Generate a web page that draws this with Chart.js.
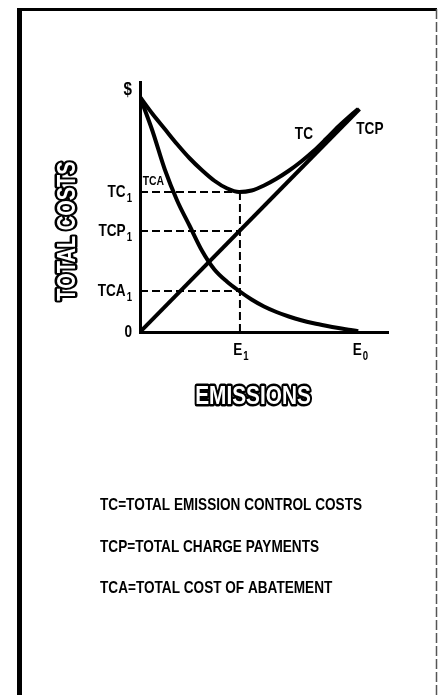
<!DOCTYPE html>
<html>
<head>
<meta charset="utf-8">
<script src="https://cdn.jsdelivr.net/npm/chart.js@4.4.1/dist/chart.umd.min.js"></script>
<style>
  html, body { margin: 0; padding: 0; background: #fff; }
  #wrap { position: absolute; left: 0; top: 0; width: 444px; height: 695px; }
</style>
</head>
<body>
<div id="wrap"><canvas id="costChart" width="444" height="695"></canvas></div>
<script>
// emissions axis samples (shared by the two curves)
var emissions = [0, 0.5, 1, 1.5, 2, 2.5, 3, 3.5, 4, 4.5, 5, 5.5, 6, 6.5, 7, 7.5, 8, 8.5, 8.8];
// total emission control costs
var tcValues = [9.4, 8.73, 8.12, 7.51, 6.95, 6.47, 6.05, 5.75, 5.6, 5.66, 5.86, 6.13, 6.45, 6.82, 7.24, 7.72, 8.22, 8.67, 8.92];
// total cost of abatement
var tcaValues = [9.4, 8.05, 6.5, 5.25, 4.25, 3.25, 2.5, 2.02, 1.64, 1.3, 1.02, 0.8, 0.62, 0.47, 0.35, 0.25, 0.16, 0.08, 0.03];
// total charge payments (straight line)
var tcpEmissions = [0, 8.85];
var tcpValues = [0, 8.92];

// marked levels
var e1 = 4.03, e0 = 8.85;
var tc1 = 5.6, tcp1 = 4.04, tca1 = 1.64, dollarMark = 9.7;

var yTickValues = [0, tca1, tcp1, tc1, dollarMark];
var yTickLabels = ["0", "TCA\u2081", "TCP\u2081", "TC\u2081", "$"];
var xTickValues = [e1, e0];
var xTickLabels = ["E\u2081", "E\u2080"];

var legendLines = [
    "TC=TOTAL EMISSION CONTROL COSTS",
    "TCP=TOTAL CHARGE PAYMENTS",
    "TCA=TOTAL COST OF ABATEMENT"
];

var FONT = "'Liberation Sans', Arial, sans-serif";
var SQUEEZE = 0.8; // condensed look

function pts(xs, ys) {
    return xs.map(function (x, i) { return { x: x, y: ys[i] }; });
}

function dashed(data) {
    return {
        data: data,
        showLine: true,
        borderColor: "#000",
        borderWidth: 2,
        borderDash: [8, 4],
        pointRadius: 0,
        order: 5
    };
}

function curve(data) {
    return {
        data: data,
        showLine: true,
        borderColor: "#000",
        borderWidth: 4,
        pointRadius: 0,
        cubicInterpolationMode: "monotone",
        order: 1
    };
}

// narrow text: squeeze horizontally through maxWidth
function narrow(c, text, x, y, size, align) {
    c.font = "bold " + size + "px " + FONT;
    var w = c.measureText(text).width * SQUEEZE;
    c.textAlign = align || "left";
    c.fillText(text, x, y, w);
    return w;
}

// label with a trailing subscript digit (₀ / ₁)
function subLabel(c, label, x, y, size, align) {
    var main = label, sub = "";
    var last = label.charCodeAt(label.length - 1);
    if (last >= 0x2080 && last <= 0x2089) {
        main = label.slice(0, -1);
        sub = String(last - 0x2080);
    }
    c.font = "bold " + size + "px " + FONT;
    var wMain = c.measureText(main).width * SQUEEZE;
    c.font = "bold " + Math.round(size * 0.7) + "px " + FONT;
    var wSub = sub ? c.measureText(sub).width * SQUEEZE + 1 : 0;
    var total = wMain + wSub;
    var left = align === "right" ? x - total : (align === "center" ? x - total / 2 : x);
    narrow(c, main, left, y, size, "left");
    if (sub) narrow(c, sub, left + wMain + 1, y + size * 0.38, Math.round(size * 0.7), "left");
}

var textPlugin = {
    id: "textPlugin",
    beforeDraw: function (chart) {
        var c = chart.ctx;
        c.save();
        c.fillStyle = "#fff";
        c.fillRect(0, 0, chart.width, chart.height);
        // frame
        c.strokeStyle = "#000";
        c.lineWidth = 5;
        c.beginPath();
        c.moveTo(19.5, 695);
        c.lineTo(19.5, 8);
        c.stroke();
        c.lineWidth = 3;
        c.beginPath();
        c.moveTo(17, 9.5);
        c.lineTo(437, 9.5);
        c.stroke();
        c.strokeStyle = "#555";
        c.lineWidth = 1.5;
        c.setLineDash([10, 3]);
        c.beginPath();
        c.moveTo(436.5, 9);
        c.lineTo(436.5, 695);
        c.stroke();
        c.restore();
    },
    afterDraw: function (chart) {
        var c = chart.ctx;
        var xs = chart.scales.x, ys = chart.scales.y;
        c.save();
        c.textBaseline = "middle";
        c.fillStyle = "#000";
        c.lineJoin = "round";

        // tick labels from the scales
        yTickValues.forEach(function (v, i) {
            var size = yTickLabels[i] === "$" ? 19 : 17;
            subLabel(c, yTickLabels[i], 132, ys.getPixelForValue(v), size, "right");
        });
        xTickValues.forEach(function (v, i) {
            subLabel(c, xTickLabels[i], xs.getPixelForValue(v) + 1, 350, 17, "center");
        });

        // axis titles, white with black outline
        function outlined(text, x, y, size, rot) {
            c.save();
            c.translate(x, y);
            if (rot) c.rotate(rot);
            c.font = "bold " + size + "px " + FONT;
            c.textAlign = "center";
            var w = c.measureText(text).width * SQUEEZE;
            c.lineWidth = 5;
            c.strokeStyle = "#000";
            c.strokeText(text, 0, 0, w);
            c.fillStyle = "#fff";
            c.fillText(text, 0, 0, w);
            c.restore();
        }
        outlined("TOTAL COSTS", 68, 231, 25, -Math.PI / 2);
        outlined("EMISSIONS", 253, 397, 26, 0);

        // curve names
        c.fillStyle = "#000";
        narrow(c, "TC", xs.getPixelForValue(6.61), ys.getPixelForValue(7.92), 17, "center");
        narrow(c, "TCP", xs.getPixelForValue(9.27), ys.getPixelForValue(8.12), 17, "center");
        narrow(c, "TCA", xs.getPixelForValue(0.54), ys.getPixelForValue(6.04), 13, "center");

        // definitions
        var rows = [505, 547, 588];
        legendLines.forEach(function (t, i) {
            narrow(c, t, 100, rows[i], 17, "left");
        });
        c.restore();
    }
};

var ctx = document.getElementById("costChart");
var costChart = new Chart(ctx, {
    type: "scatter",
    data: {
        datasets: [
            curve(pts(emissions, tcValues)),
            curve(pts(tcpEmissions, tcpValues)),
            curve(pts(emissions, tcaValues)),
            dashed([{ x: 0, y: tc1 }, { x: e1, y: tc1 }]),
            dashed([{ x: 0, y: tcp1 }, { x: e1, y: tcp1 }]),
            dashed([{ x: 0, y: tca1 }, { x: e1, y: tca1 }]),
            dashed([{ x: e1, y: 0 }, { x: e1, y: tc1 }])
        ]
    },
    options: {
        responsive: false,
        animation: false,
        devicePixelRatio: 1,
        layout: { padding: { left: 80, right: 56, top: 82, bottom: 323 } },
        plugins: { legend: { display: false }, tooltip: { enabled: false } },
        scales: {
            x: {
                type: "linear",
                min: 0,
                max: 10,
                afterFit: function (s) { s.height = 40; },
                afterBuildTicks: function (s) {
                    s.ticks = xTickValues.map(function (v) { return { value: v }; });
                },
                grid: { display: false, drawTicks: false },
                border: { display: true, color: "#000", width: 3 },
                ticks: { display: false }
            },
            y: {
                type: "linear",
                min: 0,
                max: 10,
                afterFit: function (s) { s.width = 60; },
                afterBuildTicks: function (s) {
                    s.ticks = yTickValues.map(function (v) { return { value: v }; });
                },
                grid: { display: false, drawTicks: false },
                border: { display: true, color: "#000", width: 3 },
                ticks: { display: false }
            }
        }
    },
    plugins: [textPlugin]
});
</script>
</body>
</html>
